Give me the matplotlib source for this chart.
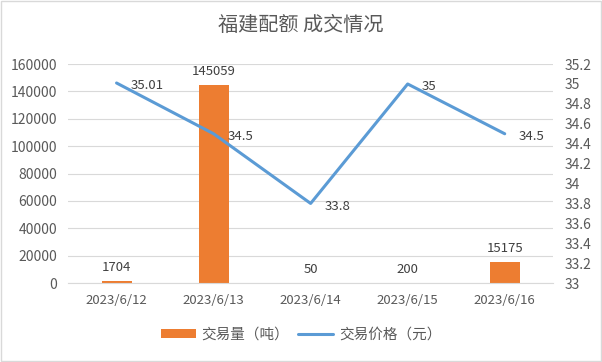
import matplotlib
matplotlib.use("Agg")
import matplotlib.pyplot as plt
from matplotlib.patches import Rectangle

plt.rcParams["font.family"] = ["Noto Sans CJK SC", "DejaVu Sans"]

dates = ["2023/6/12", "2023/6/13", "2023/6/14", "2023/6/15", "2023/6/16"]
volume = [1704, 145059, 50, 200, 15175]
price = [35.01, 34.5, 33.8, 35, 34.5]
price_labels = ["35.01", "34.5", "33.8", "35", "34.5"]

bar_color = "#ED7D31"
line_color = "#5B9BD5"
text_color = "#595959"
grid_color = "#D9D9D9"

fig = plt.figure(figsize=(6.02, 3.62), dpi=100)
ax = fig.add_axes([0.113, 0.218, 0.806, 0.605])
ax2 = ax.twinx()

x = list(range(len(dates)))
ax.bar(x, volume, width=0.31, color=bar_color, label="交易量（吨）", zorder=2)
ax2.plot(x, price, color=line_color, linewidth=2.2, label="交易价格（元）",
         solid_capstyle="round", zorder=3)

# data labels
for xi, v in zip(x, volume):
    ax.annotate(str(v), (xi, v), xytext=(0, 5), textcoords="offset points",
                ha="center", va="bottom", fontsize=9.5, color="#404040")
for xi, p, lab in zip(x, price, price_labels):
    ax2.annotate(lab, (xi, p), xytext=(10, -2), textcoords="offset points",
                 ha="left", va="center", fontsize=9.5, color="#404040")

ax.set_xlim(-0.5, len(dates) - 0.5)
ax.set_ylim(0, 160000)
ax.set_yticks(range(0, 160001, 20000))
ax2.set_ylim(33, 35.2)
ax2.set_yticks([33 + 0.2 * i for i in range(12)])
ax2.set_yticklabels([f"{33 + 0.2 * i:g}" for i in range(12)])

ax.set_xticks(x)
ax.set_xticklabels(dates)
ax.grid(axis="y", color=grid_color, linewidth=0.8, zorder=0)
ax.set_axisbelow(True)

for a in (ax, ax2):
    for s in ("top", "right", "left", "bottom"):
        a.spines[s].set_visible(False)
ax.spines["bottom"].set_visible(True)
ax.spines["bottom"].set_color(grid_color)

ax.tick_params(axis="y", length=0, labelsize=10, labelcolor=text_color, pad=8)
ax.tick_params(axis="x", length=0, labelsize=9.5, labelcolor=text_color, pad=8)
ax2.tick_params(axis="y", length=0, labelsize=10, labelcolor=text_color, pad=8)

fig.suptitle("福建配额 成交情况", y=0.96, fontsize=14.5, color=text_color)

h1, l1 = ax.get_legend_handles_labels()
h2, l2 = ax2.get_legend_handles_labels()
fig.legend(h1 + h2, l1 + l2, loc="center", bbox_to_anchor=(0.5, 0.075), ncol=2,
           frameon=False, fontsize=10.5, labelcolor=text_color, handlelength=2.4,
           handleheight=0.6, columnspacing=0.6, handletextpad=0.4)

fig.patches.append(Rectangle((0.002, 0.003), 0.996, 0.994, transform=fig.transFigure,
                             fill=False, edgecolor="#D9D9D9", linewidth=1))

fig.savefig("out.png", dpi=100)
